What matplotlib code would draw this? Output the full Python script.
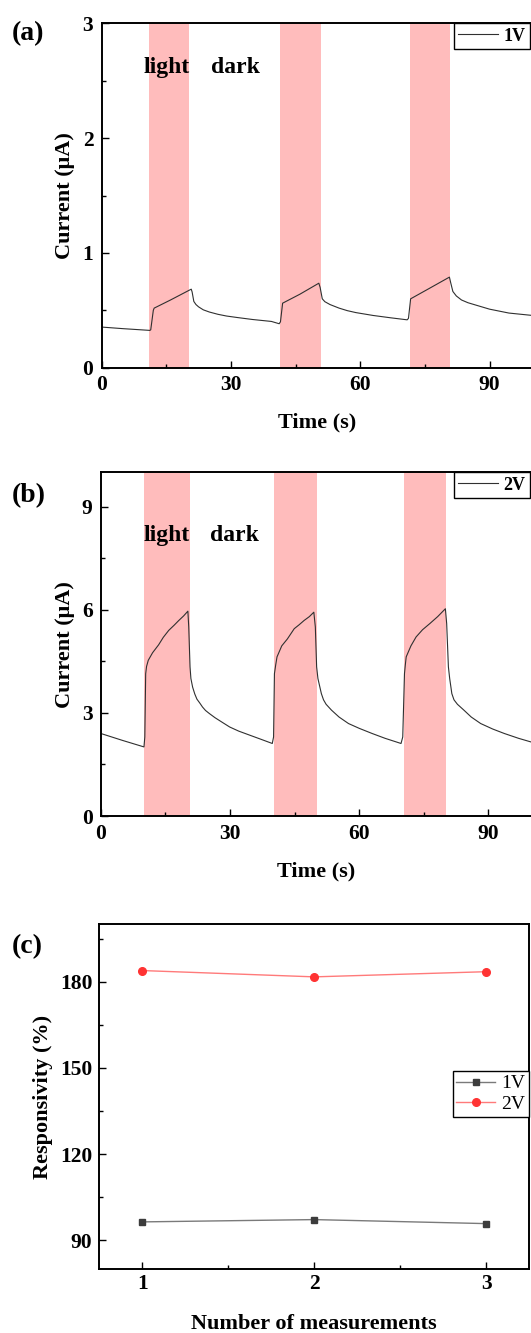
import matplotlib
matplotlib.use("Agg")
import matplotlib.pyplot as plt
from matplotlib.ticker import MultipleLocator

plt.rcParams['font.family'] = ['Liberation Serif', 'DejaVu Serif']
plt.rcParams['font.weight'] = 'bold'
plt.rcParams['axes.labelweight'] = 'bold'

# ---- dane ----
# (a) 1V
t_a = [0, 5, 11.2, 11.4, 12.0, 12.2, 16, 20.8, 21.0, 21.4, 21.9, 22.5, 23.6, 25, 27,
       29, 31.5, 35, 39.4, 41.2, 41.5, 42.0, 46, 50.4, 50.7, 51.2, 51.8, 53, 55.1, 57,
       59, 63, 67, 70.9, 71.2, 71.7, 76, 80.7, 81.0, 81.5, 82.3, 83.5, 85, 86.6, 90,
       94.5, 100]
i_a = [0.354, 0.34, 0.325, 0.33, 0.50, 0.519, 0.59, 0.684, 0.66, 0.577, 0.55, 0.530,
       0.504, 0.485, 0.465, 0.45, 0.437, 0.42, 0.403, 0.383, 0.40, 0.562, 0.64, 0.736,
       0.70, 0.60, 0.575, 0.55, 0.519, 0.497, 0.48, 0.455, 0.435, 0.417, 0.43, 0.60,
       0.69, 0.789, 0.74, 0.664, 0.625, 0.59, 0.566, 0.548, 0.51, 0.476, 0.455]
light_a = [(10.9, 20.2), (41.5, 50.8), (71.6, 80.9)]

# (b) 2V
t_b = [0, 5, 10.0, 10.2, 10.4, 10.6, 11.0, 12.0, 13.4, 14.5, 15.75, 17, 18.1, 19.2,
       20.2, 20.4, 20.7, 20.9, 21.3, 21.8, 22.3, 23.0, 23.6, 24.3, 25.2, 26.5, 28,
       29.9, 32, 34.6, 37, 39.8, 40.1, 40.3, 40.6, 40.9, 42, 43.3, 44.9, 46, 47.2,
       48.4, 49.45, 49.8, 50.1, 50.4, 51.2, 51.7, 52.3, 53.55, 55.3, 57.5, 60, 63,
       66, 69.7, 70.1, 70.5, 70.7, 70.9, 72, 73.2, 74.7, 76.4, 78.2, 80.0, 80.3,
       80.7, 81.0, 81.5, 82.0, 82.8, 84.3, 86, 88.2, 91, 93.7, 97, 100]
i_b = [2.40, 2.2, 2.01, 2.3, 4.14, 4.35, 4.53, 4.75, 4.98, 5.2, 5.4, 5.55, 5.69, 5.82,
       5.96, 5.5, 4.34, 4.0, 3.75, 3.55, 3.4, 3.28, 3.17, 3.07, 2.98, 2.86, 2.74,
       2.59, 2.47, 2.35, 2.24, 2.11, 2.3, 4.14, 4.4, 4.63, 4.95, 5.15, 5.45, 5.56,
       5.69, 5.8, 5.93, 5.5, 4.34, 4.0, 3.56, 3.38, 3.25, 3.08, 2.88, 2.69, 2.55,
       2.40, 2.26, 2.11, 2.3, 4.14, 4.4, 4.63, 4.95, 5.21, 5.42, 5.60, 5.8, 6.03,
       5.6, 4.34, 4.0, 3.56, 3.38, 3.25, 3.08, 2.88, 2.69, 2.53, 2.40, 2.26, 2.15]
light_b = [(10.1, 20.8), (40.2, 50.1), (70.3, 80.2)]

# (c) responsywnosc
n_meas = [1, 2, 3]
resp_1v = [96.4, 97.2, 95.8]
resp_2v = [183.9, 181.7, 183.5]

W, H = 531, 1333
fig = plt.figure(figsize=(W / 100, H / 100), dpi=100)


def px_axes(left, top, right, bottom):
    return fig.add_axes([left / W, 1 - bottom / H, (right - left) / W, (bottom - top) / H])


def style(ax, xpad, ypad):
    for s in ax.spines.values():
        s.set_linewidth(1.4)
    ax.tick_params(which='both', direction='in', top=False, right=False, width=1.0,
                   labelsize=15.5)
    ax.tick_params(which='major', length=5)
    ax.tick_params(which='minor', length=3)
    ax.tick_params(axis='x', pad=xpad)
    ax.tick_params(axis='y', pad=ypad)


def current_panel(ax, t, cur, bands, ymax, ystep, label, txt_y):
    for a, b in bands:
        ax.axvspan(a, b, color='#ffbcbc', lw=0, zorder=0)
    ax.plot(t, cur, color='#303030', lw=0.8, label=label)
    ax.set_xlim(0, 100)
    ax.set_ylim(0, ymax)
    ax.xaxis.set_major_locator(MultipleLocator(30))
    ax.xaxis.set_minor_locator(MultipleLocator(15))
    ax.yaxis.set_major_locator(MultipleLocator(ystep))
    ax.yaxis.set_minor_locator(MultipleLocator(ystep / 2))
    style(ax, 5.5, 6)
    ax.set_xlabel('Time (s)', fontsize=16)
    ax.set_ylabel('Current (μA)', fontsize=16)
    ax.xaxis.set_label_coords(0.5, -0.131)
    ax.yaxis.set_label_coords(-0.061, 0.5)
    ax.text(9.8, txt_y, 'light', fontsize=17, va='baseline')
    ax.text(25.3, txt_y, 'dark', fontsize=17, va='baseline')
    leg = ax.legend(loc='upper right', bbox_to_anchor=(530 / W, ax.get_position().y1),
                    bbox_transform=fig.transFigure, borderaxespad=0, fancybox=False,
                    edgecolor='black', framealpha=1, fontsize=13, handlelength=2.2,
                    handletextpad=0.3, borderpad=0.25)
    leg.get_frame().set_linewidth(1.0)


ax1 = px_axes(101.6, 23.3, 532.6, 367.7)
current_panel(ax1, t_a, i_a, light_a, 3, 1, '1V', 2.57)

ax2 = px_axes(100.9, 472.3, 531.5, 816)
current_panel(ax2, t_b, i_b, light_b, 10, 3, '2V', 8.0)

ax3 = px_axes(99.2, 924.3, 529.3, 1269)
ax3.plot(n_meas, resp_1v, color='#7a7a7a', lw=1.0, marker='s', ms=5,
         mfc='#3c3c3c', mec='#3c3c3c', label='1V')
ax3.plot(n_meas, resp_2v, color='#ff7a7a', lw=1.0, marker='o', ms=5.5,
         mfc='#ff3333', mec='#ff3333', label='2V')
ax3.set_xlim(0.75, 3.25)
ax3.set_ylim(80, 200)
ax3.xaxis.set_major_locator(MultipleLocator(1))
ax3.xaxis.set_minor_locator(MultipleLocator(0.5))
ax3.yaxis.set_major_locator(MultipleLocator(30))
ax3.yaxis.set_minor_locator(MultipleLocator(15))
style(ax3, 3.6, 5)
ax3.set_xlabel('Number of measurements', fontsize=16)
ax3.set_ylabel('Responsivity (%)', fontsize=16)
ax3.xaxis.set_label_coords(0.5, -0.13)
ax3.yaxis.set_label_coords(-0.107, 0.5)
leg3 = ax3.legend(loc='upper right', bbox_to_anchor=(529 / W, 1 - 1071 / H),
                  bbox_transform=fig.transFigure, borderaxespad=0, fancybox=False,
                  edgecolor='black', framealpha=1, handlelength=2.0, handletextpad=0.3,
                  borderpad=0.2, labelspacing=0.15,
                  prop={'family': 'Liberation Serif', 'weight': 'normal', 'size': 14})
leg3.get_frame().set_linewidth(1.0)

# etykiety paneli
fig.text(11.7 / W, 1 - 40 / H, '(a)', fontsize=20, va='baseline')
fig.text(11.9 / W, 1 - 501.7 / H, '(b)', fontsize=20, va='baseline')
fig.text(11.9 / W, 1 - 953 / H, '(c)', fontsize=20, va='baseline')

fig.savefig('out.png', dpi=100)
